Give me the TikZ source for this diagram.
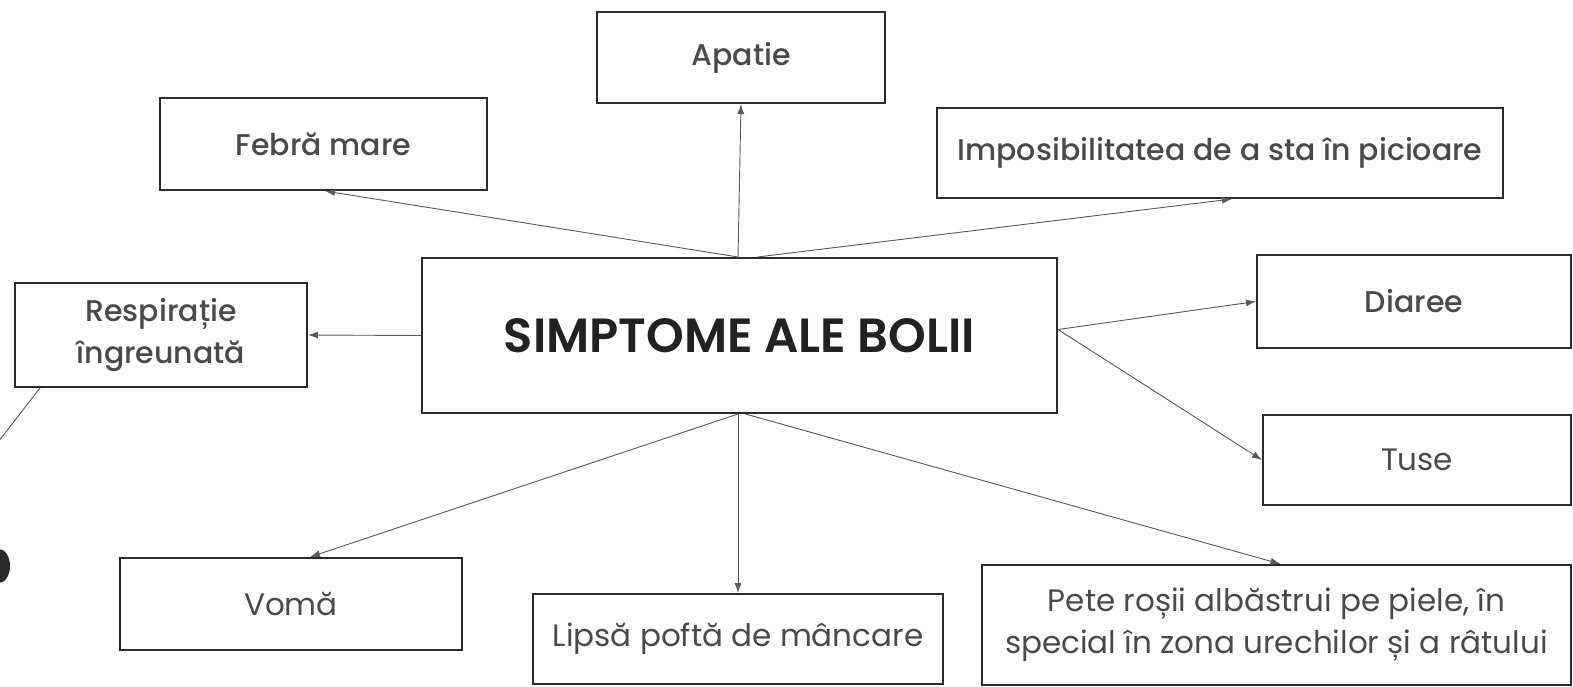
\documentclass[tikz,border=0pt]{standalone}
\usepackage{fontspec}
\setmainfont{Poppins}
\newfontfamily\medfont{Poppins Medium}
\newfontfamily\sbfont{Poppins SemiBold}
\usetikzlibrary{arrows.meta}
\definecolor{txt}{HTML}{4A4A4A}
\definecolor{ttl}{HTML}{222222}
\definecolor{edge}{HTML}{2B2B2B}
\definecolor{conn}{HTML}{5A5A5A}
\tikzset{
  box/.style={draw=edge, line width=2pt, rectangle, inner sep=0pt, text=txt, align=center, font=\fontsize{31}{42}\selectfont},
  medbox/.style={box, font=\fontsize{30}{42}\medfont},
  conn/.style={draw=conn, line width=0.9pt, -{Latex[length=10pt,width=7pt]}},
}
\begin{document}
\begin{tikzpicture}[x=1pt,y=-1pt]
\useasboundingbox (0,0) rectangle (1573,687);
\clip (0,0) rectangle (1573,687);
\fill[white] (0,0) rectangle (1573,687);
% nodes
\node[box, minimum width=635pt, minimum height=155pt, text=ttl, font=\fontsize{48}{54}\sbfont] (c) at (739.5,335.5) {SIMPTOME ALE BOLII};
\node[medbox, minimum width=288pt, minimum height=91pt] (apatie) at (741,57.5) {Apatie};
\node[medbox, minimum width=327pt, minimum height=92pt] (febra) at (323.5,144) {Febră mare};
\node[medbox, minimum width=566pt, minimum height=90pt] (imp) at (1220,153) {Imposibilitatea de a sta în picioare};
\node[medbox, minimum width=292pt, minimum height=104pt] (resp) at (161,335) {Respirație\\îngreunată};
\node[medbox, minimum width=314pt, minimum height=93pt] (diaree) at (1414,301.5) {Diaree};
\node[box, minimum width=308pt, minimum height=90pt] (tuse) at (1417,460) {Tuse};
\node[box, minimum width=342pt, minimum height=92pt] (voma) at (291,604) {Vomă};
\node[box, minimum width=410pt, minimum height=90pt] (lipsa) at (738,639) {Lipsă poftă de mâncare};
\node[box, minimum width=589pt, minimum height=120pt] (pete) at (1276.5,625) {Pete roșii albăstrui pe piele, în\\special în zona urechilor și a râtului};
% connectors
\draw[conn] ([xshift=-1.5pt]c.north) -- (apatie.south);
\draw[conn] ([xshift=-1.5pt]c.north) -- ([xshift=1.5pt]febra.south);
\draw[conn] ([xshift=18pt]c.north) -- ([xshift=12pt]imp.south);
\draw[conn] (c.west) -- (resp.east);
\draw[conn] ([yshift=6pt]c.east) -- (diaree.west);
\draw[conn] ([yshift=6pt]c.east) -- (tuse.west);
\draw[conn] ([xshift=-1.5pt]c.south) -- ([xshift=19pt]voma.north);
\draw[conn] ([xshift=-1.5pt]c.south) -- (lipsa.north);
\draw[conn] ([xshift=6pt]c.south) -- ([xshift=4pt]pete.north);
% partial elements at the left edge
\coordinate (lout) at (-12,455);
\draw[conn, -] ([xshift=26pt]resp.south west) -- (lout);
\coordinate (blob) at (-1,566);
\fill[edge] (blob) ellipse [x radius=11pt, y radius=17pt];
\end{tikzpicture}
\end{document}
